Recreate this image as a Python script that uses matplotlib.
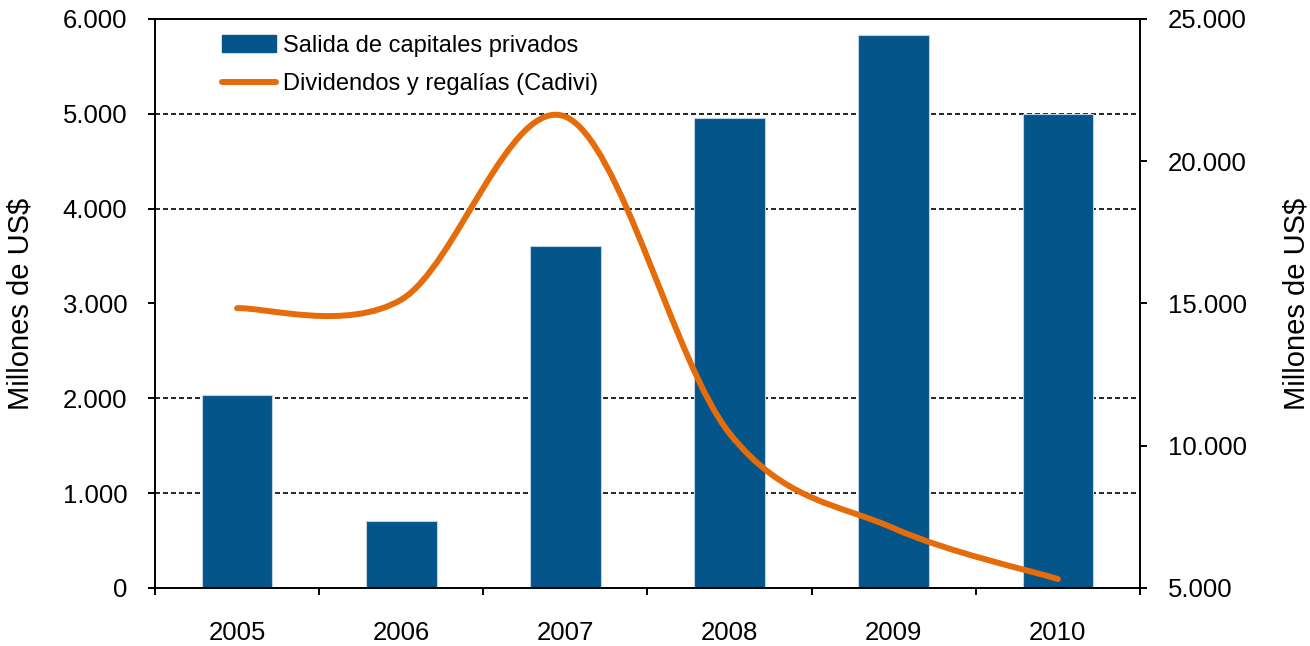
import numpy as np
import matplotlib
matplotlib.use('Agg')
import matplotlib.pyplot as plt
from matplotlib.path import Path
from matplotlib.patches import PathPatch
from matplotlib.lines import Line2D
from matplotlib.ticker import FixedLocator, FuncFormatter

# datos (millones de US$)
anios = ['2005', '2006', '2007', '2008', '2009', '2010']
salida_capitales = [11780, 7370, 17020, 21530, 24430, 21670]   # eje derecho
dividendos_cadivi = [2950, 3040, 4970, 1630, 630, 95]          # eje izquierdo

AZUL = '#03558A'
NARANJA = '#E46C0A'

plt.rcParams['font.family'] = ['Liberation Sans', 'DejaVu Sans']


def miles(v, pos=None):
    return f"{int(round(v)):,}".replace(',', '.')


def curva_suave(xs, ys):
    # linea suavizada al estilo Excel (Bezier por tramos)
    pts = np.column_stack([xs, ys]).astype(float)
    n = len(pts)
    verts = [tuple(pts[0])]
    codes = [Path.MOVETO]
    for i in range(n - 1):
        p0 = pts[max(i - 1, 0)]
        p1 = pts[i]
        p2 = pts[i + 1]
        p3 = pts[min(i + 2, n - 1)]
        c1 = p1 + (p2 - p0) / 6.0
        c2 = p2 - (p3 - p1) / 6.0
        verts += [tuple(c1), tuple(c2), tuple(p2)]
        codes += [Path.CURVE4] * 3
    return Path(verts, codes)


fig = plt.figure(figsize=(13.1, 6.46), dpi=100)
ax = fig.add_axes([0.1183, 0.0898, 0.7519, 0.8808])
ax2 = ax.twinx()
ax.set_zorder(ax2.get_zorder() + 1)
ax.patch.set_visible(False)

x = np.arange(len(anios))

# barras en el eje derecho
ax2.bar(x, salida_capitales, width=0.43, color=AZUL, edgecolor='#BFD2E4',
        linewidth=0.8, zorder=3)
ax2.set_ylim(5000, 25000)
ax2.set_yticks(np.arange(5000, 25001, 5000))
ax2.yaxis.set_major_formatter(FuncFormatter(miles))

# linea en el eje izquierdo
ax.set_ylim(0, 6000)
ax.set_yticks(np.arange(0, 6001, 1000))
ax.yaxis.set_major_formatter(FuncFormatter(miles))
ax.set_xlim(-0.5, len(anios) - 0.5)
ax.add_patch(PathPatch(curva_suave(x, dividendos_cadivi), facecolor='none',
                       edgecolor=NARANJA, linewidth=4.3, capstyle='round',
                       joinstyle='round', zorder=4))

# lineas de division (a la altura de los ticks izquierdos) bajo las barras
lo, hi = ax.get_ylim()
lo2, hi2 = ax2.get_ylim()
pos_grid = [lo2 + (v - lo) / (hi - lo) * (hi2 - lo2) for v in np.arange(1000, 6000, 1000)]
ax2.yaxis.set_minor_locator(FixedLocator(pos_grid))
ax2.set_axisbelow(True)
ax2.grid(which='minor', axis='y', color='black', linewidth=1.2,
         linestyle=(0, (3.0, 1.8)), zorder=0)
ax2.tick_params(axis='y', which='minor', length=0)

# ejes y ticks
ax.set_xticks(x)
ax.set_xticklabels(anios)
ax.xaxis.set_minor_locator(FixedLocator(np.arange(-0.5, len(anios), 1.0)))
ax.tick_params(axis='x', which='major', length=0, pad=24, labelsize=18.5)
ax.tick_params(axis='x', which='minor', length=5, width=1.4, direction='out')
ax.tick_params(axis='y', length=5, width=1.4, direction='out', pad=15, labelsize=18.5)
ax2.tick_params(axis='y', which='major', length=5, width=1.4, direction='out',
                pad=15, labelsize=18.5)

for nombre in ['left', 'bottom', 'top']:
    ax.spines[nombre].set_linewidth(1.4)
ax.spines['right'].set_visible(False)
for nombre in ['left', 'bottom', 'top']:
    ax2.spines[nombre].set_visible(False)
ax2.spines['right'].set_linewidth(1.4)

ax.set_ylabel('Millones de US$', fontsize=21)
ax.yaxis.set_label_coords(-0.122, 0.5)
ax2.set_ylabel('Millones de US$', fontsize=21, rotation=90)
ax2.yaxis.set_label_coords(1.145, 0.5)

handles = [plt.Rectangle((0, 0), 1, 1, color=AZUL),
           Line2D([], [], color=NARANJA, linewidth=4.3, solid_capstyle='round')]
ax.legend(handles, ['Salida de capitales privados', 'Dividendos y regalías (Cadivi)'],
          loc='upper left', bbox_to_anchor=(0.068, 0.972), frameon=False,
          fontsize=17, handlelength=2.3, handletextpad=0.3, labelspacing=0.7,
          borderpad=0, borderaxespad=0)

fig.savefig('out.png', dpi=100)
plt.close(fig)
